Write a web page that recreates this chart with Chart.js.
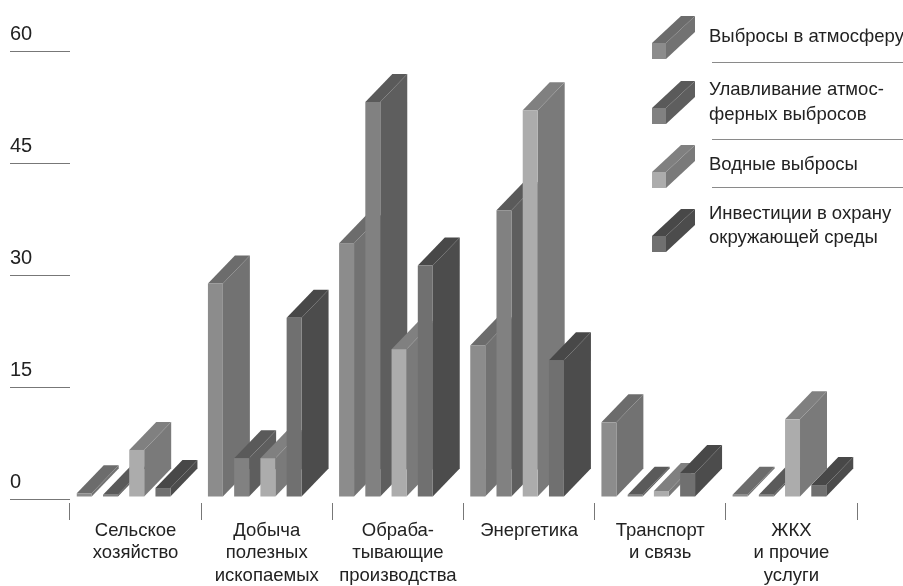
<!DOCTYPE html>
<html><head><meta charset="utf-8">
<style>html,body{margin:0;padding:0;background:#fff;overflow:hidden}canvas{display:block;filter:blur(0.7px)}</style>
<script src="https://cdn.jsdelivr.net/npm/chart.js@4"></script>
</head><body>
<canvas id="c" width="903" height="586"></canvas>
<script>
const categories=[['Сельское','хозяйство'],['Добыча','полезных','ископаемых'],['Обраба-','тывающие','производства'],['Энергетика'],['Транспорт','и связь'],['ЖКХ','и прочие','услуги']];
const seriesNames=['Выбросы в атмосферу','Улавливание атмосферных выбросов','Водные выбросы','Инвестиции в охрану окружающей среды'];
const legendLines=[['Выбросы в атмосферу'],['Улавливание атмос-','ферных выбросов'],['Водные выбросы'],['Инвестиции в охрану','окружающей среды']];
const air=[0.5,28.6,34,20.3,10,0.3];
const capture=[0.3,5.2,52.9,38.4,0.3,0.3];
const water=[6.3,5.2,19.8,51.8,0.8,10.4];
const invest=[1.2,24,31,18.3,3.2,1.6];
const yTicks=[0,15,30,45,60];
const fronts=['#8c8c8c','#818181','#acacac','#707070'];
const sides=['#727272','#5e5e5e','#7a7a7a','#4c4c4c'];
const tops=['#6c6c6c','#5a5a5a','#808080','#484848'];
const FONT='"Liberation Sans"';
const DX=27,DY=28,SHIFT=-12;
function box(ctx,x0,x1,yt,yb,i,dx,dy){
  ctx.fillStyle=sides[i];ctx.beginPath();ctx.moveTo(x1,yt);ctx.lineTo(x1+dx,yt-dy);ctx.lineTo(x1+dx,yb-dy);ctx.lineTo(x1,yb);ctx.closePath();ctx.fill();
  ctx.fillStyle=tops[i];ctx.beginPath();ctx.moveTo(x0,yt);ctx.lineTo(x0+dx,yt-dy);ctx.lineTo(x1+dx,yt-dy);ctx.lineTo(x1,yt);ctx.closePath();ctx.fill();
  ctx.fillStyle=fronts[i];ctx.fillRect(x0,yt,x1-x0,yb-yt);
}
const bars3d={id:'bars3d',
  beforeDatasetsDraw(chart){
    const ctx=chart.ctx;ctx.save();ctx.translate(SHIFT,-2);
    chart.data.datasets.forEach((d,i)=>{
      chart.getDatasetMeta(i).data.forEach(el=>{
        const p=el.getProps(['x','y','base','width'],true);
        box(ctx,p.x-p.width/2,p.x+p.width/2,p.y,p.base,i,DX,DY);
      });
    });
    ctx.restore();return false;
  },
  afterDraw(chart){
    const ctx=chart.ctx;ctx.save();
    const iy=[59,124,188,252],ih=16;
    legendLines.forEach((lines,i)=>box(ctx,652,666,iy[i]-ih,iy[i],i,29,27));
    ctx.strokeStyle='#8a8a8a';ctx.lineWidth=1;
    [62,139,187].forEach(y=>{ctx.beginPath();ctx.moveTo(712,y+.5);ctx.lineTo(903,y+.5);ctx.stroke();});
    ctx.fillStyle='#222';ctx.font='18.5px '+FONT;ctx.textBaseline='middle';ctx.textAlign='left';
    const ys=[[37],[90,115],[165],[214,238]];
    legendLines.forEach((lines,i)=>lines.forEach((t,j)=>ctx.fillText(t,709,ys[i][j])));
    ctx.restore();
  }};
new Chart(document.getElementById('c'),{
  type:'bar',
  data:{labels:categories,datasets:[air,capture,water,invest].map((v,i)=>({label:seriesNames[i],data:v,backgroundColor:fronts[i]}))},
  plugins:[bars3d],
  options:{responsive:false,animation:false,devicePixelRatio:1,
    layout:{padding:{left:10,right:46,top:51,bottom:0}},
    categoryPercentage:0.8,barPercentage:0.57,
    plugins:{legend:{display:false},tooltip:{enabled:false}},
    scales:{
      x:{afterFit(s){s.height=87;},
        grid:{drawOnChartArea:false,drawTicks:true,tickLength:21,tickColor:'#777',tickBorderDash:[0,4,17,100],color:'#777'},
        border:{display:false},
        ticks:{color:'#222',font:{family:FONT,size:18.5,lineHeight:1.2},padding:0,maxRotation:0,autoSkip:false}},
      y:{min:0,max:60,afterFit(s){s.width=60;},
        afterBuildTicks(s){s.ticks=yTicks.map(v=>({value:v}));},
        grid:{drawOnChartArea:false,drawTicks:true,tickLength:60,tickColor:'#777'},
        border:{display:false},
        ticks:{color:'#222',font:{family:FONT,size:20},labelOffset:-17,crossAlign:'far',padding:0}}
    }}
});
</script></body></html>
